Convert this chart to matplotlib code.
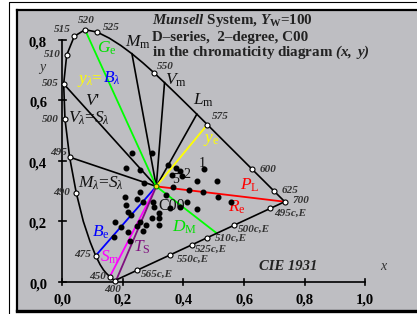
import matplotlib
matplotlib.use("Agg")
import matplotlib.pyplot as plt
from matplotlib.lines import Line2D

plt.rcParams['font.family'] = ['Liberation Serif', 'DejaVu Serif']
plt.rcParams['mathtext.fontset'] = 'custom'
plt.rcParams['mathtext.rm'] = 'Liberation Serif'
plt.rcParams['mathtext.it'] = 'Liberation Serif:italic'
plt.rcParams['mathtext.bf'] = 'Liberation Serif:bold'
plt.rcParams['mathtext.bfit'] = 'Liberation Serif:italic:bold'

# spectral locus (CIE 1931, 2 degree), 400..700 nm
locus_nm = [400, 405, 410, 415, 420, 425, 430, 435, 440, 445, 450, 455, 460, 465,
            470, 475, 480, 485, 490, 495, 500, 505, 510, 515, 520, 525, 530, 535,
            540, 545, 550, 555, 560, 565, 570, 575, 580, 585, 590, 595, 600, 605,
            610, 615, 620, 625, 630, 640, 650, 660, 680, 700]
locus_x = [0.1733, 0.1730, 0.1726, 0.1721, 0.1714, 0.1703, 0.1689, 0.1669, 0.1644,
           0.1611, 0.1566, 0.1510, 0.1440, 0.1355, 0.1241, 0.1096, 0.0913, 0.0687,
           0.0454, 0.0235, 0.0082, 0.0039, 0.0139, 0.0389, 0.0743, 0.1142, 0.1547,
           0.1929, 0.2296, 0.2658, 0.3016, 0.3373, 0.3731, 0.4087, 0.4441, 0.4788,
           0.5125, 0.5448, 0.5752, 0.6029, 0.6270, 0.6482, 0.6658, 0.6801, 0.6915,
           0.7006, 0.7079, 0.7190, 0.7260, 0.7300, 0.7334, 0.7347]
locus_y = [0.0048, 0.0048, 0.0048, 0.0048, 0.0051, 0.0058, 0.0069, 0.0086, 0.0109,
           0.0138, 0.0177, 0.0227, 0.0297, 0.0399, 0.0578, 0.0868, 0.1327, 0.2007,
           0.2950, 0.4127, 0.5384, 0.6548, 0.7502, 0.8120, 0.8338, 0.8262, 0.8059,
           0.7816, 0.7543, 0.7243, 0.6923, 0.6589, 0.6245, 0.5896, 0.5547, 0.5202,
           0.4866, 0.4544, 0.4242, 0.3965, 0.3725, 0.3514, 0.3340, 0.3197, 0.3083,
           0.2993, 0.2920, 0.2809, 0.2740, 0.2700, 0.2666, 0.2653]

# marked wavelengths: (nm, label offset in pixels, alignment)
marked_nm = [400, 450, 475, 490, 495, 500, 505, 510, 515, 520, 525, 550, 575, 600, 625, 700]
marked_off = [(-2, -9), (-4, 0), (-5, 1), (-6, 0), (-3, 5), (-6, 0), (-5, 0), (-6, 1),
              (-4, 7), (1, 9), (6, 5), (3, 6), (5, 8), (7, 0), (7, 1), (8, 1)]
marked_ha = ['center', 'right', 'right', 'right', 'right', 'right', 'right', 'right',
             'right', 'center', 'left', 'left', 'left', 'left', 'left', 'left']

# complementary wavelengths on the purple line
comp_labels = ['565c,E', '550c,E', '525c,E', '510c,E', '500c,E', '495c,E']
comp_x = [0.247, 0.355, 0.427, 0.477, 0.566, 0.687]
comp_y = [0.039, 0.089, 0.123, 0.146, 0.187, 0.243]
comp_off = [(4, -4), (7, -4), (3, -5), (8, 0), (4, -4), (4, -5)]

white_x, white_y = 0.310, 0.316

# Munsell sample chromaticities
dots_x = [0.230, 0.296, 0.210, 0.256, 0.269, 0.349, 0.375, 0.388, 0.395, 0.362,
          0.468, 0.445, 0.511, 0.365, 0.418, 0.464, 0.514, 0.557, 0.412, 0.445,
          0.207, 0.256, 0.246, 0.266, 0.210, 0.217, 0.226, 0.174, 0.193, 0.170,
          0.217, 0.223, 0.256, 0.246, 0.319, 0.319, 0.319, 0.296, 0.276, 0.266,
          0.299, 0.302, 0.355, 0.388, 0.342]
dots_y = [0.426, 0.426, 0.377, 0.370, 0.327, 0.387, 0.377, 0.367, 0.350, 0.354,
          0.374, 0.334, 0.334, 0.314, 0.304, 0.298, 0.281, 0.264, 0.264, 0.241,
          0.281, 0.298, 0.274, 0.264, 0.255, 0.231, 0.221, 0.198, 0.182, 0.149,
          0.165, 0.136, 0.198, 0.185, 0.228, 0.212, 0.188, 0.212, 0.188, 0.169,
          0.264, 0.248, 0.245, 0.248, 0.288]

# coloured lines from the white point: end point and colour
ray_x = [0.0743, 0.4788, 0.7347, 0.1096, 0.1566, 0.178, 0.510]
ray_y = [0.8338, 0.5202, 0.2653, 0.0868, 0.0177, 0.007, 0.161]
ray_c = ['#00ff00', '#ffff00', '#ff0000', '#0000ff', '#ff00ff', '#7f107f', '#00ff00']

# black lines from the white point to the locus (505, 495, 540, 555, 570 nm)
black_nm = [505, 495, 540, 555, 570]

ticks = [0.0, 0.2, 0.4, 0.6, 0.8, 1.0]
tick_labels = ['0,0', '0,2', '0,4', '0,6', '0,8', '1,0']

fig = plt.figure(figsize=(4.17, 3.14), dpi=100)
fig.add_artist(Line2D([9 / 417, 9 / 417, 1.0], [0.0, 1 - 2 / 314, 1 - 2 / 314],
                      color='black', lw=0.8, transform=fig.transFigure))
ax = fig.add_axes([17 / 417, 3 / 314, 403 / 417, 301 / 314])
ax.set_facecolor('#bebec2')
ax.set_xlim(-0.1504, 1.1818)
ax.set_ylim(-0.0959, 0.899)
ax.set_xticks([])
ax.set_yticks([])
ax.spines['right'].set_visible(False)
ax.spines['top'].set_linewidth(1.6)
ax.spines['left'].set_linewidth(1.6)
ax.spines['bottom'].set_linewidth(2.4)

# axes
ax.plot([0, 1.0], [0, 0], color='black', lw=1.2)
ax.plot([0, 0], [0, 0.8], color='black', lw=1.2)
for t, lab in zip(ticks, tick_labels):
    ax.plot([t, t], [-0.011, 0.011], color='black', lw=1.2)
    ax.text(t, -0.058, lab, ha='center', va='center', fontsize=10.5, fontweight='bold')
    if t <= 0.8:
        ax.plot([-0.012, 0.012], [t, t], color='black', lw=1.2)
        ax.text(-0.051, t - 0.01, lab, ha='right', va='center', fontsize=10.5,
                fontweight='bold')
ax.text(-0.068, 0.710, 'y', style='italic', fontsize=10, color='#333333',
        ha='center', va='center')
ax.text(1.06, 0.050, 'x', style='italic', fontsize=10, color='#333333',
        ha='center', va='center')
ax.text(0.745, 0.052, 'CIE 1931', style='italic', fontweight='bold', fontsize=10.5,
        ha='center', va='center', color='#222222')

# title
ax.text(0.296, 0.853, r'$\mathbfit{Munsell}$ System, $\mathbfit{Y}_{\mathbf{W}}$=100',
        fontsize=10.8, fontweight='bold', color='#222222', va='baseline')
ax.text(0.296, 0.797, 'D\u2013series,  2\u2013degree, C00',
        fontsize=10.8, fontweight='bold', color='#222222', va='baseline')
ax.text(0.296, 0.746, r'in the chromaticity diagram $\mathbfit{(x,\ y)}$',
        fontsize=10.8, fontweight='bold', color='#222222', va='baseline')

# black rays
for nm in black_nm:
    i = locus_nm.index(nm)
    ax.plot([locus_x[i], white_x], [locus_y[i], white_y], color='black', lw=1.2)

# coloured rays
for xe, ye, c in zip(ray_x, ray_y, ray_c):
    ax.plot([white_x, xe], [white_y, ye], color=c, lw=1.3)

# locus and purple line
ax.plot(locus_x, locus_y, color='black', lw=1.2)
ax.plot([locus_x[0], locus_x[-1]], [locus_y[0], locus_y[-1]], color='black', lw=1.2)

# sample dots
ax.plot(dots_x, dots_y, 'o', color='black', ms=3.3, zorder=4)
ax.plot([white_x], [white_y], 'o', mfc='#ffd700', mec='#008000', ms=3.5, mew=0.8,
        zorder=5)

# locus markers and labels
for nm, off, ha in zip(marked_nm, marked_off, marked_ha):
    i = locus_nm.index(nm)
    ax.plot(locus_x[i], locus_y[i], 'o', mfc='white', mec='black', ms=3.6, mew=0.8,
            zorder=6)
    ax.annotate(str(nm), (locus_x[i], locus_y[i]), xytext=off,
                textcoords='offset pixels', ha=ha, va='center', fontsize=8,
                style='italic', fontweight='bold', color='#333333')
for lab, cx, cy, off in zip(comp_labels, comp_x, comp_y, comp_off):
    ax.plot(cx, cy, 'o', mfc='white', mec='black', ms=3.6, mew=0.8, zorder=6)
    ax.annotate(lab, (cx, cy), xytext=off, textcoords='offset pixels', ha='left',
                va='center', fontsize=8, style='italic', fontweight='bold',
                color='#333333')

# line names
fs = 12.5
ax.text(0.114, 0.757, r'$G_{\rm e}$', color='#00e000', fontsize=fs, va='baseline')
ax.text(0.207, 0.777, r'$M_{\rm m}$', color='#111111', fontsize=fs, va='baseline')
ax.text(0.048, 0.658, r'$y_{\lambda}$=', color='#ffff00', fontsize=fs, va='baseline')
ax.text(0.134, 0.658, r'$B_{\lambda}$', color='#0000ff', fontsize=fs, va='baseline')
ax.text(0.339, 0.652, r'$V_{\rm m}$', color='#111111', fontsize=fs, va='baseline')
ax.text(0.431, 0.585, r'$L_{\rm m}$', color='#111111', fontsize=fs, va='baseline')
ax.text(0.074, 0.585, r"$V$'", color='#111111', fontsize=fs, va='baseline')
ax.text(0.018, 0.526, r'$V_{\lambda}$=$S_{\lambda}$', color='#111111', fontsize=fs,
        va='baseline')
ax.text(0.464, 0.463, r'$y_{\rm e}$', color='#ffff00', fontsize=fs, va='baseline')
ax.text(0.051, 0.311, r'$M_{\lambda}$=$S_{\lambda}$', color='#111111', fontsize=fs,
        va='baseline')
ax.text(0.316, 0.238, 'C00', color='#111111', fontsize=11.5, va='baseline')
ax.text(0.098, 0.149, r'$B_{\rm e}$', color='#0000ff', fontsize=fs, va='baseline')
ax.text(0.124, 0.066, r'$S_{\rm m}$', color='#ff00ff', fontsize=fs, va='baseline')
ax.text(0.233, 0.099, r'$T_{\rm S}$', color='#7f107f', fontsize=fs, va='baseline')
ax.text(0.362, 0.165, r'$D_{\rm M}$', color='#00e000', fontsize=fs, va='baseline')
ax.text(0.587, 0.304, r'$P_{\rm L}$', color='#ff0000', fontsize=fs, va='baseline')
ax.text(0.547, 0.231, r'$R_{\rm e}$', color='#ff0000', fontsize=fs, va='baseline')
ax.text(0.451, 0.380, '1', color='#111111', fontsize=10, va='baseline')
ax.text(0.362, 0.327, '5', color='#111111', fontsize=10, va='baseline')
ax.text(0.398, 0.344, '2', color='#111111', fontsize=10, va='baseline')

fig.savefig('out.png', dpi=100)
